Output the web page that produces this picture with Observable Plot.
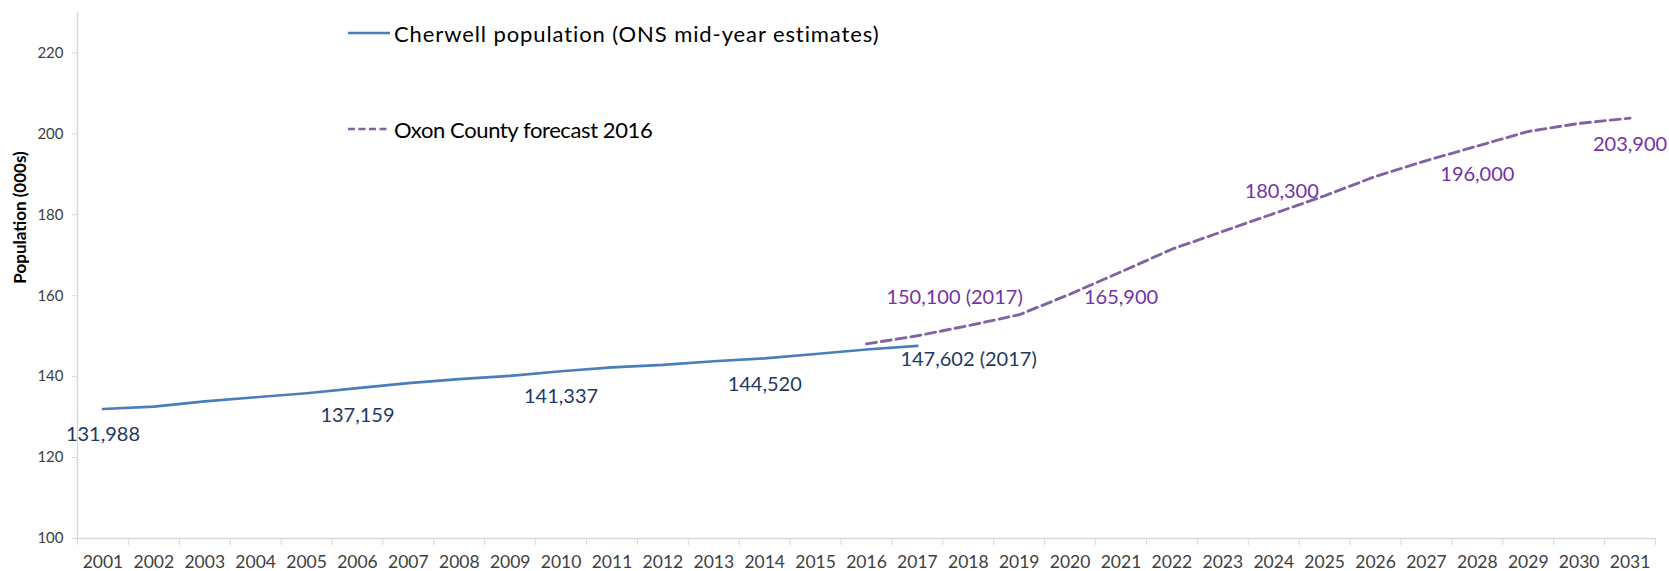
<!DOCTYPE html>
<html>
<head>
<meta charset="utf-8">
<script src="https://cdn.jsdelivr.net/npm/d3@7"></script>
<script src="https://cdn.jsdelivr.net/npm/@observablehq/plot@0.6"></script>
<style>
  html, body { margin: 0; padding: 0; background: #fff; }
  #chart { position: relative; width: 1669px; height: 571px; font-family: Lato, "Open Sans", sans-serif; }
  .legend-row { position: absolute; left: 348px; height: 28px; display: flex; align-items: center; font-size: 22px; color: #000; white-space: nowrap; }
  .legend-row svg { margin-right: 4px; }
</style>
</head>
<body>
<div id="chart"></div>
<script>
// ---- Data ----
const yearLabels = [2001, 2002, 2003, 2004, 2005, 2006, 2007, 2008, 2009, 2010, 2011, 2012, 2013, 2014, 2015, 2016,
                    2017, 2018, 2019, 2020, 2021, 2022, 2023, 2024, 2025, 2026, 2027, 2028, 2029, 2030, 2031];
const yTicks = [100, 120, 140, 160, 180, 200, 220];

const cherwellYears = [2001, 2002, 2003, 2004, 2005, 2006, 2007, 2008, 2009, 2010, 2011, 2012, 2013, 2014, 2015, 2016, 2017];
const cherwellValues = [131.988, 132.6, 133.9, 134.9, 135.9, 137.159, 138.4, 139.4, 140.2, 141.337, 142.3, 142.9, 143.8, 144.52, 145.6, 146.7, 147.602];

const forecastYears = [2016, 2017, 2018, 2019, 2020, 2021, 2022, 2023, 2024, 2025, 2026, 2027, 2028, 2029, 2030, 2031];
const forecastValues = [148.1, 150.1, 152.6, 155.3, 160.4, 165.9, 171.5, 175.9, 180.3, 184.7, 189.5, 193.4, 197.0, 200.6, 202.6, 203.9];

const cherwellLabelYears = [2001, 2006, 2010, 2014, 2017];
const cherwellLabelValues = [131.988, 137.159, 141.337, 144.52, 147.602];
const cherwellLabelTexts = ["131,988", "137,159", "141,337", "144,520", "147,602 (2017)"];

const forecastLabelYears = [2017, 2021, 2024, 2028, 2031];
const forecastLabelValues = [150.1, 165.9, 180.3, 196.0, 203.9];
const forecastLabelTexts = ["150,100 (2017)", "165,900", "180,300", "196,000", "203,900"];

const seriesNames = ["Cherwell population (ONS mid-year estimates)", "Oxon County forecast 2016"];
const yAxisTitle = "Population (000s)";

// ---- Tables built from the arrays ----
const cherwell = cherwellYears.map((year, i) => ({year, value: cherwellValues[i]}));
const forecast = forecastYears.map((year, i) => ({year, value: forecastValues[i]}));
const cherwellLabels = cherwellLabelYears.map((year, i) => ({year, value: cherwellLabelValues[i], text: cherwellLabelTexts[i]}));
const forecastLabels = forecastLabelYears.map((year, i) => ({year, value: forecastLabelValues[i], text: forecastLabelTexts[i]}));
const boundaries = yearLabels.map(y => y - 0.5).concat([yearLabels[yearLabels.length - 1] + 0.5]);

const BLUE = "#4A7EBB", PURPLE = "#8064A2";
const BLUE_TEXT = "#1F3864", PURPLE_TEXT = "#7432A6";
const GRID = "#d9d9d9", TICK_TEXT = "#404040";

// per-label placement styles (offsets from the data point)
const cherwellPlacement = [
  {dx: 0, dy: 26, textAnchor: "middle"},
  {dx: 0, dy: 27, textAnchor: "middle"},
  {dx: 0, dy: 25, textAnchor: "middle"},
  {dx: 0, dy: 26, textAnchor: "middle"},
  {dx: -17, dy: 14, textAnchor: "start"}
];
const forecastPlacement = [
  {dx: -31, dy: -38, textAnchor: "start"},
  {dx: 0, dy: 26, textAnchor: "middle"},
  {dx: 8, dy: -22, textAnchor: "middle"},
  {dx: 0, dy: 25, textAnchor: "middle"},
  {dx: 0, dy: 26, textAnchor: "middle"}
];

function labelMarks(rows, placements, fill) {
  return rows.map((row, i) => Plot.text([row], {
    x: "year", y: "value", text: "text",
    dx: placements[i].dx, dy: placements[i].dy,
    textAnchor: placements[i].textAnchor, lineAnchor: "middle",
    fill, fontSize: 20
  }));
}

const plot = Plot.plot({
  width: 1669,
  height: 571,
  marginLeft: 77,
  marginRight: 14,
  marginTop: 12,
  marginBottom: 33,
  style: {fontFamily: "Lato, 'Open Sans', sans-serif", background: "#fff", overflow: "visible"},
  x: {type: "linear", domain: [boundaries[0], boundaries[boundaries.length - 1]]},
  y: {type: "linear", domain: [100, 230]},
  marks: [
    Plot.ruleX([boundaries[0]], {stroke: GRID, strokeWidth: 1.5}),
    Plot.ruleY([100], {stroke: GRID, strokeWidth: 1.5}),
    Plot.axisY({ticks: yTicks, tickSize: 5, tickPadding: 9, stroke: GRID, fill: TICK_TEXT, fontSize: 15, label: null}),
    Plot.axisX({ticks: boundaries, tickSize: 7, tickFormat: () => "", stroke: GRID, label: null}),
    Plot.axisX({ticks: yearLabels, tickSize: 0, tickPadding: 17, tickFormat: d => String(d), fill: TICK_TEXT, fontSize: 17.5, label: null}),
    Plot.text([yAxisTitle], {text: d => d, frameAnchor: "left", rotate: -90, dx: -57, dy: -58,
      textAnchor: "middle", lineAnchor: "middle", fontWeight: "bold", fontSize: 17, fill: "#000"}),
    Plot.line(cherwell, {x: "year", y: "value", stroke: BLUE, strokeWidth: 2.6}),
    Plot.line(forecast, {x: "year", y: "value", stroke: PURPLE, strokeWidth: 2.9, strokeDasharray: "10,5"}),
    ...labelMarks(cherwellLabels, cherwellPlacement, BLUE_TEXT),
    ...labelMarks(forecastLabels, forecastPlacement, PURPLE_TEXT)
  ]
});

const chart = document.getElementById("chart");
chart.appendChild(plot);

// legend overlay
const legendStyles = [
  {stroke: BLUE, dash: null, width: 2.6, top: 19, spacing: "0.9px"},
  {stroke: PURPLE, dash: "7,3.5", width: 2.6, top: 115, spacing: "-0.4px"}
];
seriesNames.forEach((name, i) => {
  const s = legendStyles[i];
  const row = document.createElement("div");
  row.className = "legend-row";
  row.style.top = s.top + "px";
  row.style.letterSpacing = s.spacing;
  row.innerHTML = `<svg width="42" height="6"><line x1="0" x2="42" y1="3" y2="3" stroke="${s.stroke}" stroke-width="${s.width}" ${s.dash ? `stroke-dasharray="${s.dash}"` : ""}/></svg><span>${name}</span>`;
  chart.appendChild(row);
});
</script>
</body>
</html>
